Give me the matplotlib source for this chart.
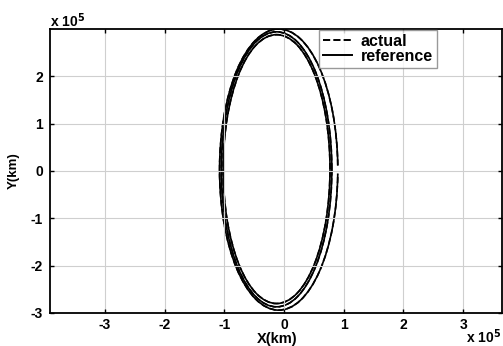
import matplotlib
matplotlib.use("Agg")
import matplotlib.pyplot as plt
from matplotlib.patches import Arc
from matplotlib.ticker import FuncFormatter

plt.rcParams['font.family'] = ['Liberation Sans', 'DejaVu Sans']
plt.rcParams['font.weight'] = 'bold'

# orbit loops (km): centre x, centre y, semi-axis x, semi-axis y, start/end angle (deg)
loop_cx = [-0.09e5, -0.125e5, -0.125e5]
loop_cy = [0.03e5, 0.035e5, 0.04e5]
loop_ax = [0.99e5, 0.925e5, 0.895e5]
loop_ay = [2.97e5, 2.905e5, 2.84e5]
loop_t1 = [5, 0, 0]
loop_t2 = [355, 360, 360]

xticks = [-3e5, -2e5, -1e5, 0, 1e5, 2e5, 3e5]
yticks = [-3e5, -2e5, -1e5, 0, 1e5, 2e5]

fig = plt.figure(figsize=(5.03, 3.46), dpi=100)
ax = fig.add_axes([0.0994, 0.0954, 0.898, 0.8208])

for cx, cy, a, b, t1, t2 in zip(loop_cx, loop_cy, loop_ax, loop_ay, loop_t1, loop_t2):
    ax.add_patch(Arc((cx, cy), 2 * a, 2 * b, theta1=t1, theta2=t2,
                     color='k', lw=1.2, ls='-'))
    ax.add_patch(Arc((cx, cy), 2 * a, 2 * b, theta1=t1, theta2=t2,
                     color='k', lw=1.2, ls='--'))

ax.set_xlim(-3.92e5, 3.645e5)
ax.set_ylim(-3e5, 3e5)
ax.set_xticks(xticks)
ax.set_yticks(yticks)
fmt = FuncFormatter(lambda v, p: '%d' % round(v / 1e5))
ax.xaxis.set_major_formatter(fmt)
ax.yaxis.set_major_formatter(fmt)
ax.tick_params(direction='in', top=True, right=True, labelsize=10, length=3,
               width=1, pad=5)
ax.tick_params(axis='x', pad=3.5)
ax.grid(True, color='#cfcfcf', lw=0.8)
for s in ax.spines.values():
    s.set_linewidth(1.3)

ax.set_xlabel('X(km)', fontsize=10.5, fontweight='bold')
ax.xaxis.set_label_coords(0.502, -0.066)
ax.set_ylabel('Y(km)', fontsize=9.5, fontweight='bold')
ax.yaxis.set_label_coords(-0.067, 0.5)

fig.text(0.0994, 0.922, 'x 10$^{5}$', fontsize=10, fontweight='bold', va='baseline')
fig.text(0.926, 0.01, 'x 10$^{5}$', fontsize=10, fontweight='bold')

h1, = ax.plot([], [], 'k--', lw=1.4, label='actual')
h2, = ax.plot([], [], 'k-', lw=1.4, label='reference')
leg = ax.legend(handles=[h1, h2], loc='upper left', bbox_to_anchor=(0.596, 0.997),
                fontsize=11.5, frameon=True, fancybox=False, handlelength=1.8,
                borderpad=0.25, labelspacing=0.0, handletextpad=0.55,
                borderaxespad=0)
leg.get_frame().set_edgecolor('#808080')
leg.get_frame().set_linewidth(1.0)

fig.savefig('out.png', dpi=100)
